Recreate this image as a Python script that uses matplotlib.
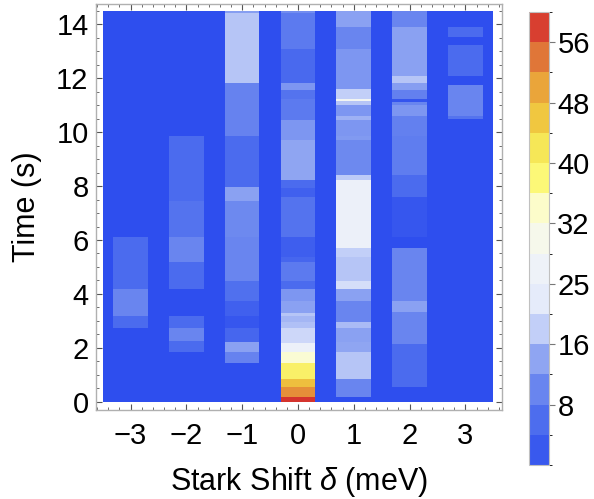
import numpy as np
import matplotlib
matplotlib.use("Agg")
import matplotlib.pyplot as plt
from matplotlib.colors import LinearSegmentedColormap, ListedColormap, BoundaryNorm

# stark shift columns (meV)
shifts = [-3, -2, -1, 0, 1, 2, 3]

# time bin edges (s) and counts for every column
edges_m3 = [0, 2.72, 3.18, 4.17, 6.12, 14.5]
vals_m3 = [0, 5.5, 10, 5.5, 0]

edges_m2 = [0, 1.85, 2.25, 2.72, 3.18, 4.19, 5.19, 6.12, 7.44, 9.86, 14.5]
vals_m2 = [0, 5.5, 10, 5.5, 0, 5.5, 10, 7, 5.5, 0]

edges_m1 = [0, 1.45, 1.85, 2.23, 2.72, 3.18, 3.73, 4.48, 6.12, 7.44, 7.95, 9.86, 11.83, 14.41, 14.5]
vals_m1 = [0, 9.5, 13.5, 4.5, 1.5, 3.5, 6.5, 10, 10.5, 13.5, 5.5, 9.5, 17, 13]

edges_0 = [0, 0.16, 0.53, 0.83, 1.45, 1.85, 2.17, 2.73, 2.97, 3.18, 3.28, 3.75, 4.2, 4.48,
           5.19, 5.36, 6.1, 7.6, 7.94, 8.22, 9.73, 10.47, 11.22, 11.56, 11.81, 13.08, 14.43, 14.5]
vals_0 = [59, 52, 47, 40, 33, 25, 19, 16.5, 15.5, 17, 13.5, 12, 5.5, 8, 4.5, 3, 7, 3.5, 5.5,
          14, 12, 8, 7, 12, 5, 8, 11]

edges_p1 = [0, 0.16, 0.83, 1.85, 2.23, 2.73, 2.97, 3.75, 4.19, 4.48, 5.38, 5.69, 8.22, 8.41,
            9.73, 9.86, 10.47, 10.6, 11.0, 11.16, 11.24, 11.59, 13.08, 13.91, 14.5]
vals_p1 = [0, 10, 17, 14, 13.5, 16, 10, 13.5, 20, 17, 18, 25, 17.5, 10.5, 12.5, 12, 15, 12,
           17, 28, 18, 12, 10, 13.5]

edges_p2 = [0, 0.53, 2.14, 3.32, 3.73, 5.69, 6.12, 7.6, 8.41, 9.86, 10.6, 11.0, 11.13, 11.22,
            11.56, 11.81, 12.08, 13.91, 14.5]
vals_p2 = [0, 5.5, 10, 13.5, 10, 0, 1.5, 5.5, 8.5, 9, 12, 10, 1, 9, 13, 17, 13.5, 10]

edges_p3 = [0, 10.49, 10.6, 11.75, 12.08, 13.23, 13.52, 13.91, 14.5]
vals_p3 = [0, 7, 10, 0, 5.5, 0, 5.5, 0]

all_edges = [edges_m3, edges_m2, edges_m1, edges_0, edges_p1, edges_p2, edges_p3]
all_vals = [vals_m3, vals_m2, vals_m1, vals_0, vals_p1, vals_p2, vals_p3]

# colour bar
cbar_ticks = [8, 16, 24, 32, 40, 48, 56]
cbar_labels = ['8', '16', '25', '32', '40', '48', '56']

# temperature-map like colours (value, colour)
anchors = [
    (0, '#2e4eee'), (2, '#3a5aee'), (6, '#4e6eee'), (10, '#6a86ef'), (14, '#90a6f2'),
    (18, '#c4d0f8'), (22, '#e6ecfa'), (26, '#eef2f8'), (30, '#f6f8ec'), (34, '#fcfccc'),
    (38, '#fcf878'), (42, '#f6e858'), (46, '#f0c840'), (50, '#eaa63a'), (54, '#e07838'),
    (58, '#d84030'), (60, '#d02a2c'),
]
vmax = 60


def main():
    cmap = LinearSegmentedColormap.from_list('temp', [(v / vmax, c) for v, c in anchors])

    fig = plt.figure(figsize=(5.94, 4.99), dpi=100)
    ax = fig.add_axes([0.1608, 0.1784, 0.6843, 0.8136])

    # background of the whole data area
    ax.pcolormesh([-3.5, 3.5], [0, 14.5], [[0]], cmap=cmap, vmin=0, vmax=vmax)
    half = 0.31
    for x, e, v in zip(shifts, all_edges, all_vals):
        ax.pcolormesh([x - half, x + half], e, np.array(v).reshape(-1, 1),
                      cmap=cmap, vmin=0, vmax=vmax)

    ax.set_xlim(-3.629, 3.656)
    ax.set_ylim(-0.308, 14.76)
    ax.set_xticks(shifts)
    ax.set_xticks(np.arange(-3.6, 3.61, 0.2), minor=True)
    ax.set_yticks(np.arange(0, 15, 2))
    ax.set_yticks(np.arange(0, 14.9, 0.5), minor=True)
    ax.tick_params(which='both', direction='in', top=True, right=True, color='#555555')
    ax.tick_params(which='major', length=4.5, width=0.8, labelsize=21)
    ax.tick_params(which='minor', length=2.5, width=0.6)
    ax.tick_params(axis='x', pad=9)
    ax.tick_params(axis='y', pad=5)
    for s in ax.spines.values():
        s.set_color('#b0b0b0')
        s.set_linewidth(1.0)

    ax.set_xlabel(r'Stark Shift $\delta$ (meV)', fontsize=22)
    ax.set_ylabel('Time (s)', fontsize=22)
    ax.xaxis.set_label_coords(0.5, -0.135)
    ax.yaxis.set_label_coords(-0.132, 0.5)

    # discrete colour bar
    bounds = np.arange(0, vmax + 1, 4)
    centers = (bounds[:-1] + bounds[1:]) / 2
    dcmap = ListedColormap([cmap(c / vmax) for c in centers])
    norm = BoundaryNorm(bounds, dcmap.N)
    cax = fig.add_axes([0.8906, 0.0681, 0.0337, 0.908])
    sm = plt.cm.ScalarMappable(norm=norm, cmap=dcmap)
    cb = fig.colorbar(sm, cax=cax, ticks=cbar_ticks)
    cb.ax.set_yticklabels(cbar_labels)
    cb.ax.tick_params(labelsize=21, length=4, width=0.8, color='#777777', pad=2)
    cb.outline.set_edgecolor('#c0c0c0')
    cb.outline.set_linewidth(0.8)

    fig.savefig('out.png', dpi=100)


if __name__ == "__main__":
    plt.rcParams['font.family'] = ['Liberation Sans', 'DejaVu Sans']
    plt.rcParams['mathtext.fontset'] = 'custom'
    plt.rcParams['mathtext.it'] = 'Liberation Sans:italic'
    plt.rcParams['mathtext.rm'] = 'Liberation Sans'
    main()
